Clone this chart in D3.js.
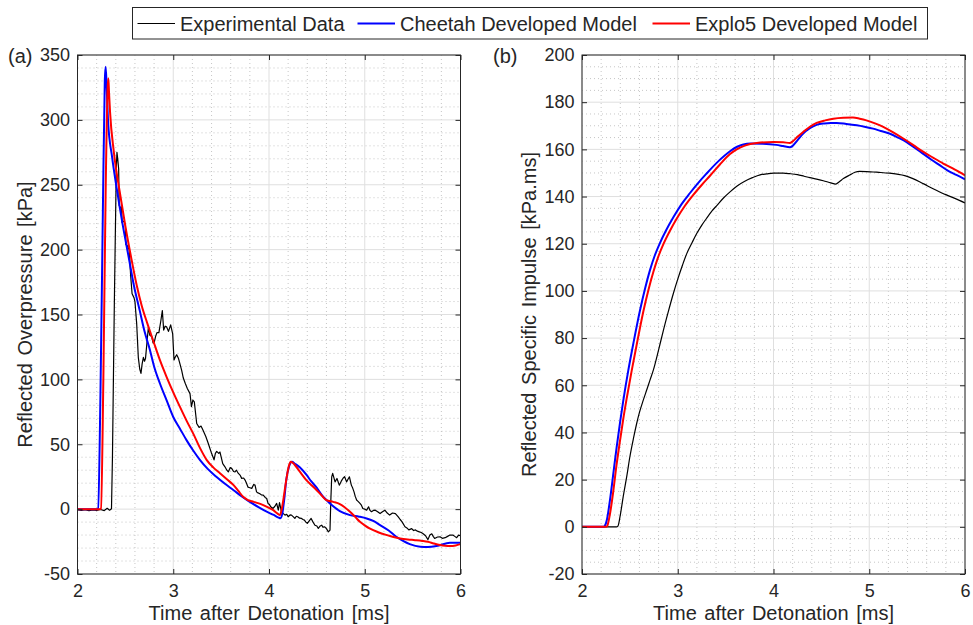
<!DOCTYPE html>
<html>
<head>
<meta charset="utf-8">
<script src="https://cdn.jsdelivr.net/npm/d3@7"></script>
<style>
  body { margin: 0; background: #fff; }
  svg { font-family: "Liberation Sans", Arial, sans-serif; }
</style>
</head>
<body>
<svg id="chart"></svg>
<script>
// ---- data ----
const seriesNames = ['Experimental Data', 'Cheetah Developed Model', 'Explo5 Developed Model'];
const seriesColors = ['#000000', '#0000ff', '#ff0000'];

const timeTicks = [2, 3, 4, 5, 6];
const pressureTicks = [-50, 0, 50, 100, 150, 200, 250, 300, 350];
const impulseTicks = [-20, 0, 20, 40, 60, 80, 100, 120, 140, 160, 180, 200];

// [time ms, reflected overpressure kPa]
const expPressure = [
  [2.00,-0.5],[2.04,-1.0],[2.08,-0.4],[2.12,-1.2],[2.16,-0.6],[2.20,-1.0],[2.24,-0.3],[2.28,-1.1],
  [2.31,0.6],[2.335,-0.8],[2.355,0.3],[2.365,40],[2.385,160],[2.405,262],[2.412,275],[2.42,270],
  [2.43,262],[2.435,234],[2.45,232],[2.46,233],[2.465,221],[2.485,222],[2.50,219],[2.505,204],
  [2.52,203],[2.54,200],[2.555,180],[2.57,166],[2.59,163],[2.60,160],[2.618,143],[2.635,117],
  [2.65,108],[2.663,104.6],[2.675,112],[2.688,117],[2.70,114],[2.71,116],[2.725,128],[2.74,140],
  [2.755,134],[2.775,133],[2.79,128],[2.80,128],[2.815,133],[2.83,136],[2.85,136],[2.87,145],
  [2.886,153],[2.90,138],[2.915,141],[2.93,140.5],[2.95,137],[2.973,142],[2.994,135],[3.008,115],
  [3.02,117],[3.036,119],[3.055,116],[3.07,112],[3.088,107],[3.105,101],[3.125,97],[3.147,93],
  [3.175,89],[3.19,79],[3.205,84],[3.22,82.7],[3.245,66],[3.27,63],[3.29,64],[3.31,61],[3.34,56],
  [3.366,50.6],[3.40,43],[3.426,38],[3.44,43],[3.454,44.5],[3.475,43],[3.488,44],[3.517,35],
  [3.54,32.6],[3.56,30],[3.575,28.7],[3.595,32],[3.61,31.4],[3.63,29],[3.645,28.7],[3.66,30],
  [3.68,27.5],[3.70,26],[3.715,23.7],[3.735,24],[3.75,22.4],[3.765,20],[3.78,17],[3.80,16.5],
  [3.82,16],[3.84,19],[3.854,18.5],[3.87,13.3],[3.885,12.5],[3.90,12],[3.92,11],[3.94,10.8],
  [3.96,9],[3.976,8.2],[3.99,4.4],[4.005,3.5],[4.018,1.8],[4.04,0.5],[4.06,2],[4.08,4.4],
  [4.097,-0.8],[4.11,5],[4.13,-2.1],[4.15,-3.5],[4.167,-4.6],[4.185,-4],[4.20,-5.9],[4.22,-4.5],
  [4.235,-4.6],[4.255,-6],[4.27,-7.2],[4.285,-5.5],[4.30,-5.9],[4.32,-7],[4.34,-7.2],[4.355,-8],
  [4.37,-8.5],[4.385,-10],[4.40,-11],[4.42,-9],[4.44,-7.2],[4.46,-10],[4.48,-12.4],[4.50,-13],
  [4.515,-14.9],[4.535,-13],[4.55,-12.4],[4.565,-14],[4.58,-13.6],[4.60,-15],[4.62,-17.5],
  [4.637,-16.2],[4.645,5],[4.655,24.9],[4.665,27.5],[4.69,21],[4.71,23.6],[4.734,18.5],[4.745,20],
  [4.758,22],[4.775,24],[4.79,25],[4.81,21],[4.825,23],[4.84,24.9],[4.86,18.5],[4.875,16],
  [4.888,13.3],[4.90,10],[4.915,7],[4.93,6],[4.95,4.4],[4.965,3],[4.98,0.5],[5.0,0],[5.02,-0.8],
  [5.04,1.8],[5.055,-1],[5.07,-2],[5.09,-1],[5.11,-0.8],[5.135,-2],[5.16,-3.4],[5.185,-2],
  [5.21,-0.8],[5.235,-3],[5.26,-4.6],[5.29,-3],[5.32,-3.4],[5.35,-5.9],[5.37,-8],[5.39,-9.8],
  [5.42,-13.6],[5.44,-14.5],[5.46,-16],[5.49,-15],[5.51,-16.5],[5.53,-16],[5.55,-17],[5.57,-17.5],
  [5.59,-18],[5.61,-19],[5.635,-20.5],[5.66,-23.5],[5.68,-20],[5.70,-19],[5.715,-21],[5.73,-22.6],
  [5.76,-21.5],[5.786,-21.3],[5.81,-22.5],[5.84,-22],[5.865,-21],[5.89,-20],[5.92,-20],[5.94,-21],
  [5.96,-22],[5.98,-20],[6.0,-20.5]
];

const cheetahPressure = [
  [2.0,0],[2.2,0],[2.215,0.5],[2.24,90],[2.265,230],[2.285,330],[2.294,341],[2.305,325],[2.32,298],
  [2.36,272],[2.41,247],[2.47,220],[2.53,196],[2.59,172],[2.65,153],[2.70,137],[2.757,122.5],
  [2.80,110],[2.86,97],[2.93,84],[3.0,71],[3.07,62],[3.14,53],[3.21,45],[3.28,37.8],[3.36,31],
  [3.45,24.9],[3.54,19.5],[3.63,14.6],[3.72,9.5],[3.80,5.6],[3.89,1.5],[3.976,-2],[4.05,-4.5],
  [4.10,-6.5],[4.12,-7],[4.14,-3],[4.16,8],[4.18,22.4],[4.21,33],[4.24,36.5],[4.27,35],[4.324,32],
  [4.39,26.5],[4.44,21.5],[4.498,16.5],[4.55,11],[4.60,7],[4.655,3.1],[4.74,-1.5],[4.846,-4.6],
  [4.94,-5.8],[5.02,-7.2],[5.10,-9.5],[5.16,-12.3],[5.25,-16.5],[5.33,-21.3],[5.40,-24.5],
  [5.47,-27],[5.58,-29],[5.66,-29.2],[5.75,-28.5],[5.89,-26],[6.0,-26]
];

const explo5Pressure = [
  [2.0,0],[2.23,0],[2.245,0.5],[2.27,100],[2.295,250],[2.315,325],[2.322,332],[2.33,320],[2.34,306],
  [2.38,275],[2.44,245],[2.50,218],[2.56,194],[2.62,172],[2.67,157],[2.73,143],[2.79,130],
  [2.86,115],[2.93,102],[3.0,90],[3.07,78.8],[3.14,68],[3.21,58],[3.28,47],[3.35,37.8],[3.42,32],
  [3.49,27.5],[3.56,23],[3.63,18.5],[3.68,14],[3.73,9.5],[3.78,7],[3.84,5.6],[3.94,3.1],[4.0,1],
  [4.045,-0.8],[4.09,-3.5],[4.115,-4.6],[4.13,-1],[4.145,5],[4.18,22.4],[4.21,34],[4.225,36.5],
  [4.25,35.5],[4.27,34],[4.324,28.7],[4.39,22.4],[4.45,18],[4.498,14.6],[4.55,10.5],[4.60,6.9],
  [4.67,5.6],[4.74,3.9],[4.79,1.5],[4.846,-2],[4.90,-6],[4.95,-9.8],[5.0,-12.5],[5.05,-14.9],
  [5.14,-17.8],[5.23,-20],[5.30,-21.5],[5.37,-22.6],[5.45,-23.4],[5.525,-23.9],[5.60,-24.5],
  [5.66,-25.2],[5.72,-26.5],[5.786,-27.7],[5.84,-28.3],[5.89,-28.5],[5.95,-28],[6.0,-27]
];

// [time ms, reflected specific impulse kPa.ms]
const expImpulse = [
  [2.0,0],[2.36,0],[2.375,0.3],[2.40,5],[2.43,12.7],[2.47,22],[2.50,29.7],[2.54,38],[2.571,43.8],
  [2.60,48.5],[2.64,53.7],[2.68,58.5],[2.71,62.2],[2.745,66.4],[2.80,75],[2.85,83.3],[2.90,91],
  [2.954,98.9],[3.0,105],[3.05,111],[3.094,115.8],[3.15,120.5],[3.198,124.3],[3.25,127.8],
  [3.30,130.7],[3.36,134],[3.41,136.3],[3.48,139.5],[3.546,142],[3.62,144.5],[3.70,146.5],
  [3.78,148],[3.86,149.2],[3.93,149.6],[4.0,149.9],[4.10,149.9],[4.17,149.7],[4.25,149.3],
  [4.32,148.6],[4.38,148],[4.45,147.4],[4.52,146.7],[4.60,145.8],[4.65,145.3],[4.69,146.4],
  [4.73,147.6],[4.80,149.2],[4.85,150.3],[4.90,150.7],[4.97,150.6],[5.04,150.4],[5.12,150.2],
  [5.21,149.9],[5.29,149.5],[5.37,148.9],[5.45,147.7],[5.53,146.2],[5.61,144.5],[5.70,142.7],
  [5.80,140.8],[5.90,139.1],[6.0,137.3]
];

const cheetahImpulse = [
  [2.0,0],[2.225,0],[2.24,0.5],[2.26,3],[2.292,11.3],[2.33,23.5],[2.362,33.8],[2.40,45],[2.43,53.2],
  [2.484,66.4],[2.54,78.5],[2.606,91.8],[2.66,101.2],[2.71,108.8],[2.76,115],[2.815,120.4],
  [2.88,125.8],[2.954,131.2],[3.04,136.8],[3.128,141.5],[3.21,145.6],[3.30,149.7],[3.42,154.8],
  [3.546,159.2],[3.62,161.1],[3.685,162.1],[3.76,162.5],[3.89,162.4],[4.03,161.9],[4.10,161.4],
  [4.17,160.9],[4.20,161.5],[4.25,163.8],[4.31,166.7],[4.38,169],[4.45,170.4],[4.53,171],
  [4.60,171.2],[4.66,171.2],[4.76,170.8],[4.87,170.2],[4.95,169.6],[5.04,168.8],[5.12,167.8],
  [5.21,166.7],[5.30,165],[5.39,163.1],[5.47,160.8],[5.56,158.2],[5.65,155.6],[5.735,153.3],
  [5.82,151],[5.91,149.2],[6.0,147.3]
];

const explo5Impulse = [
  [2.0,0],[2.255,0],[2.265,0.5],[2.29,5],[2.325,14.5],[2.36,26],[2.397,36.5],[2.43,45.5],
  [2.467,54.5],[2.52,66.4],[2.575,78],[2.64,91.2],[2.695,100.6],[2.745,108],[2.795,114.3],
  [2.85,119.8],[2.92,125.6],[2.99,130.7],[3.07,135.8],[3.16,140.6],[3.25,144.9],[3.337,148.8],
  [3.44,153.6],[3.546,158],[3.616,160],[3.70,161.6],[3.825,162.7],[4.0,163.1],[4.10,163],
  [4.17,162.7],[4.20,163.4],[4.25,165.3],[4.31,167.4],[4.38,169.6],[4.45,171.2],[4.54,172.3],
  [4.625,173],[4.73,173.4],[4.83,173.5],[4.90,173],[4.97,172.3],[5.06,171],[5.146,169.5],
  [5.25,167.2],[5.355,164.6],[5.46,161.8],[5.566,158.9],[5.67,156.4],[5.773,154],[5.89,151.5],
  [6.0,149]
];

// ---- drawing ----
const width = 973;
const height = 625;
const svg = d3.select('#chart').attr('width', width).attr('height', height);

const axisColor = '#262626';

function drawPanel(p) {
  const x = d3.scaleLinear().domain([2, 6]).range([p.left, p.right]);
  const y = d3.scaleLinear().domain(p.yDomain).range([p.bottom, p.top]);
  const g = svg.append('g');

  // minor grid (dotted)
  const minorX = d3.range(2, 6.0001, 0.2).filter((v) => Math.abs(v - Math.round(v)) > 1e-6);
  const minorY = d3.range(p.yDomain[0], p.yDomain[1] + 1e-6, p.minorStep)
    .filter((v) => !p.yTicks.includes(Math.round(v * 1000) / 1000));
  g.append('g').selectAll('line').data(minorX).join('line')
    .attr('x1', (d) => x(d)).attr('x2', (d) => x(d))
    .attr('y1', p.top).attr('y2', p.bottom)
    .attr('stroke', '#b8b8b8').attr('stroke-width', 0.8).attr('stroke-dasharray', '1,3');
  g.append('g').selectAll('line').data(minorY).join('line')
    .attr('x1', p.left).attr('x2', p.right)
    .attr('y1', (d) => y(d)).attr('y2', (d) => y(d))
    .attr('stroke', '#b8b8b8').attr('stroke-width', 0.8).attr('stroke-dasharray', '1,3');

  // major grid
  g.append('g').selectAll('line').data(timeTicks).join('line')
    .attr('x1', (d) => x(d)).attr('x2', (d) => x(d))
    .attr('y1', p.top).attr('y2', p.bottom)
    .attr('stroke', '#dfdfdf').attr('stroke-width', 1);
  g.append('g').selectAll('line').data(p.yTicks).join('line')
    .attr('x1', p.left).attr('x2', p.right)
    .attr('y1', (d) => y(d)).attr('y2', (d) => y(d))
    .attr('stroke', '#dfdfdf').attr('stroke-width', 1);

  // curves
  g.append('clipPath').attr('id', 'clip-' + p.id)
    .append('rect')
    .attr('x', p.left).attr('y', p.top)
    .attr('width', p.right - p.left).attr('height', p.bottom - p.top);

  const lineLinear = d3.line().x((d) => x(d[0])).y((d) => y(d[1]));
  const lineSmooth = d3.line().x((d) => x(d[0])).y((d) => y(d[1])).curve(d3.curveMonotoneX);

  const curves = g.append('g').attr('clip-path', `url(#clip-${p.id})`);
  p.series.forEach((s, i) => {
    curves.append('path')
      .attr('d', (p.smoothFirst || i > 0 ? lineSmooth : lineLinear)(s))
      .attr('fill', 'none')
      .attr('stroke', seriesColors[i])
      .attr('stroke-width', i === 0 ? 1.2 : 2)
      .attr('stroke-linejoin', 'round');
  });

  // axes with inward ticks
  const font = (sel) => sel.selectAll('text')
    .attr('font-family', '"Liberation Sans", Arial, sans-serif')
    .attr('font-size', 18).attr('fill', axisColor);

  const xb = g.append('g').attr('transform', `translate(0,${p.bottom})`)
    .call(d3.axisBottom(x).tickValues(timeTicks).tickSize(-5).tickPadding(10).tickFormat(d3.format('d')));
  const xt = g.append('g').attr('transform', `translate(0,${p.top})`)
    .call(d3.axisTop(x).tickValues(timeTicks).tickSize(-5).tickFormat(''));
  const yl = g.append('g').attr('transform', `translate(${p.left},0)`)
    .call(d3.axisLeft(y).tickValues(p.yTicks).tickSize(-5).tickPadding(7.5).tickFormat(d3.format('d')));
  const yr = g.append('g').attr('transform', `translate(${p.right},0)`)
    .call(d3.axisRight(y).tickValues(p.yTicks).tickSize(-5).tickFormat(''));
  [xb, xt, yl, yr].forEach((a) => {
    a.select('.domain').remove();
    a.selectAll('line').attr('stroke', axisColor);
    font(a);
  });
  // plain hyphen for negative labels, as in the original
  yl.selectAll('text').text((d) => String(d));

  // box
  g.append('rect')
    .attr('x', p.left).attr('y', p.top)
    .attr('width', p.right - p.left).attr('height', p.bottom - p.top)
    .attr('fill', 'none').attr('stroke', axisColor).attr('stroke-width', 1);

  // labels
  g.append('text')
    .attr('x', (p.left + p.right) / 2).attr('y', 619.5)
    .attr('text-anchor', 'middle').attr('font-size', 20).attr('fill', axisColor)
    .attr('word-spacing', 2)
    .text('Time after Detonation [ms]');
  g.append('text')
    .attr('transform', `translate(${p.yLabelX},${(p.top + p.bottom) / 2}) rotate(-90)`)
    .attr('text-anchor', 'middle').attr('font-size', 20).attr('fill', axisColor)
    .attr('word-spacing', 2)
    .text(p.yLabel);
  g.append('text')
    .attr('x', p.tagX).attr('y', 63)
    .attr('font-size', 20).attr('fill', axisColor)
    .text(p.tag);
}

drawPanel({
  id: 'a', tag: '(a)', tagX: 8,
  left: 77.5, right: 460.5, top: 55, bottom: 574,
  yDomain: [-50, 350], yTicks: pressureTicks, minorStep: 10,
  yLabel: 'Reflected Overpressure [kPa]', yLabelX: 32,
  series: [expPressure, cheetahPressure, explo5Pressure],
  smoothFirst: false
});

drawPanel({
  id: 'b', tag: '(b)', tagX: 493,
  left: 582, right: 965, top: 55, bottom: 574,
  yDomain: [-20, 200], yTicks: impulseTicks, minorStep: 5,
  yLabel: 'Reflected Specific Impulse [kPa.ms]', yLabelX: 536,
  series: [expImpulse, cheetahImpulse, explo5Impulse],
  smoothFirst: true
});

// legend
const legend = svg.append('g');
legend.append('rect')
  .attr('x', 132.5).attr('y', 7.5).attr('width', 795).attr('height', 31.5)
  .attr('fill', '#fff').attr('stroke', axisColor).attr('stroke-width', 1);
const legendX = [137.5, 357.5, 652.5];
seriesNames.forEach((name, i) => {
  legend.append('line')
    .attr('x1', legendX[i]).attr('x2', legendX[i] + 37.5)
    .attr('y1', 23.5).attr('y2', 23.5)
    .attr('stroke', seriesColors[i]).attr('stroke-width', i === 0 ? 1.2 : 2);
  legend.append('text')
    .attr('x', legendX[i] + 42.5).attr('y', 30.5)
    .attr('font-size', 20).attr('fill', axisColor)
    .text(name);
});
</script>
</body>
</html>
